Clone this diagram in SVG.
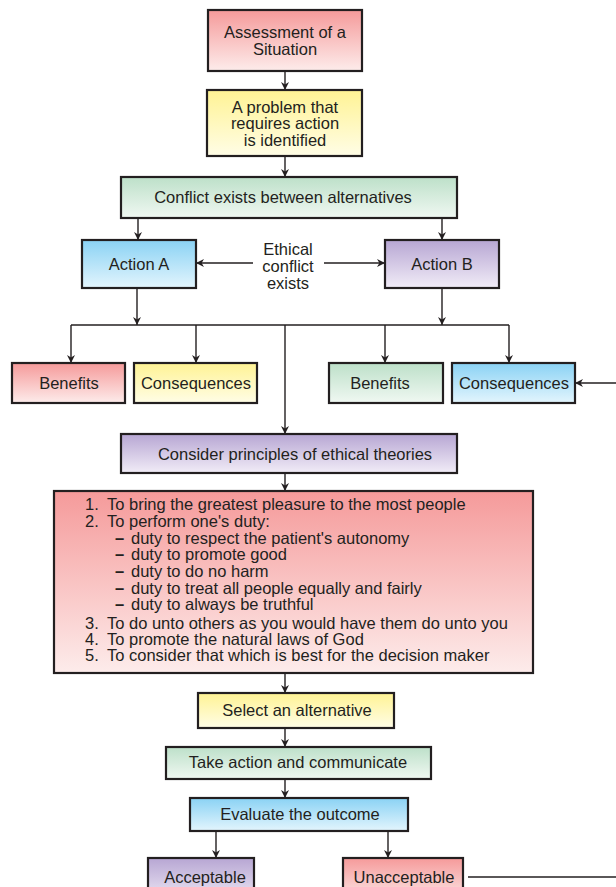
<svg xmlns="http://www.w3.org/2000/svg" width="616" height="887" viewBox="0 0 616 887">
<defs>
<linearGradient id="gRed" x1="0" y1="0" x2="0" y2="1"><stop offset="0" stop-color="#f59a9a"/><stop offset="1" stop-color="#fdeceb"/></linearGradient>
<linearGradient id="gYel" x1="0" y1="0" x2="0" y2="1"><stop offset="0" stop-color="#fff394"/><stop offset="1" stop-color="#fffde6"/></linearGradient>
<linearGradient id="gGrn" x1="0" y1="0" x2="0" y2="1"><stop offset="0" stop-color="#bde0c9"/><stop offset="1" stop-color="#f0f8f2"/></linearGradient>
<linearGradient id="gBlu" x1="0" y1="0" x2="0" y2="1"><stop offset="0" stop-color="#8ad2f4"/><stop offset="1" stop-color="#e3f5fd"/></linearGradient>
<linearGradient id="gPur" x1="0" y1="0" x2="0" y2="1"><stop offset="0" stop-color="#b7a6d3"/><stop offset="1" stop-color="#f1ecf7"/></linearGradient>
<marker id="ah" viewBox="0 0 10 10" refX="10" refY="5" markerWidth="8" markerHeight="8" orient="auto" markerUnits="userSpaceOnUse"><path d="M0,0 L10,5 L0,10 L3,5 z" fill="#231f20"/></marker>
</defs>
<style>
.box{stroke:#231f20;stroke-width:2.2}
.t{font-family:"Liberation Sans",Arial,sans-serif;font-size:16.5px;fill:#231f20}
.c{text-anchor:middle}
.ln{fill:none;stroke:#231f20;stroke-width:1.4}
.ar{fill:none;stroke:#231f20;stroke-width:1.4;marker-end:url(#ah)}
.dash{font-weight:bold}
</style>
<rect width="616" height="887" fill="#ffffff"/>

<g id="connectors">
<path class="ar" d="M285,71 V90"/>
<path class="ar" d="M285,156 V177"/>
<path class="ar" d="M138,218 V240"/>
<path class="ar" d="M442,218 V240"/>
<path class="ar" d="M253,263 H196"/>
<path class="ar" d="M324,263 H385"/>
<path class="ar" d="M137,288 V325"/>
<path class="ar" d="M442,288 V325"/>
<path class="ln" d="M71,325 H509"/>
<path class="ar" d="M71,325 V363"/>
<path class="ar" d="M196,325 V363"/>
<path class="ar" d="M385,325 V363"/>
<path class="ar" d="M509,325 V363"/>
<path class="ar" d="M285,325 V434"/>
<path class="ar" d="M616,383 H575"/>
<path class="ar" d="M285,473 V491"/>
<path class="ar" d="M285,673 V693"/>
<path class="ar" d="M285,728 V747"/>
<path class="ar" d="M285,779 V798"/>
<path class="ar" d="M216,831 V858"/>
<path class="ar" d="M388,831 V858"/>
<path class="ln" d="M468,877 H616"/>
</g>

<g id="assessment">
<rect class="box" x="208" y="10" width="154" height="61" fill="url(#gRed)"/>
<text class="t c" x="285" y="38">Assessment of a</text>
<text class="t c" x="285" y="55">Situation</text>
</g>
<g id="problem">
<rect class="box" x="207" y="90" width="155" height="66" fill="url(#gYel)"/>
<text class="t c" x="285" y="113">A problem that</text>
<text class="t c" x="285" y="129">requires action</text>
<text class="t c" x="285" y="146">is identified</text>
</g>
<g id="conflict">
<rect class="box" x="121" y="177" width="336" height="41" fill="url(#gGrn)"/>
<text class="t c" x="283" y="203">Conflict exists between alternatives</text>
</g>
<g id="actionA">
<rect class="box" x="82" y="240" width="114" height="48" fill="url(#gBlu)"/>
<text class="t c" x="139" y="270">Action A</text>
</g>
<g id="ethical">
<text class="t c" x="288" y="255">Ethical</text>
<text class="t c" x="288" y="272">conflict</text>
<text class="t c" x="288" y="289">exists</text>
</g>
<g id="actionB">
<rect class="box" x="385" y="240" width="114" height="48" fill="url(#gPur)"/>
<text class="t c" x="442" y="270">Action B</text>
</g>
<g id="benefitsA">
<rect class="box" x="12" y="363" width="113" height="40" fill="url(#gRed)"/>
<text class="t c" x="69" y="389">Benefits</text>
</g>
<g id="consequencesA">
<rect class="box" x="134" y="363" width="123" height="40" fill="url(#gYel)"/>
<text class="t c" x="196" y="389">Consequences</text>
</g>
<g id="benefitsB">
<rect class="box" x="329" y="363" width="114" height="40" fill="url(#gGrn)"/>
<text class="t c" x="380" y="389">Benefits</text>
</g>
<g id="consequencesB">
<rect class="box" x="452" y="363" width="123" height="40" fill="url(#gBlu)"/>
<text class="t c" x="514" y="389">Consequences</text>
</g>
<g id="consider">
<rect class="box" x="121" y="434" width="336" height="39" fill="url(#gPur)"/>
<text class="t c" x="295" y="460">Consider principles of ethical theories</text>
</g>
<g id="principles">
<rect class="box" x="54" y="491" width="479" height="182" fill="url(#gRed)"/>
<text class="t" y="510"><tspan x="85">1.</tspan><tspan x="107">To bring the greatest pleasure to the most people</tspan></text>
<text class="t" y="527"><tspan x="85">2.</tspan><tspan x="107">To perform one's duty:</tspan></text>
<text class="t" y="544"><tspan x="115" class="dash">–</tspan><tspan x="131">duty to respect the patient's autonomy</tspan></text>
<text class="t" y="560"><tspan x="115" class="dash">–</tspan><tspan x="131">duty to promote good</tspan></text>
<text class="t" y="577"><tspan x="115" class="dash">–</tspan><tspan x="131">duty to do no harm</tspan></text>
<text class="t" y="594"><tspan x="115" class="dash">–</tspan><tspan x="131">duty to treat all people equally and fairly</tspan></text>
<text class="t" y="610"><tspan x="115" class="dash">–</tspan><tspan x="131">duty to always be truthful</tspan></text>
<text class="t" y="629"><tspan x="85">3.</tspan><tspan x="107">To do unto others as you would have them do unto you</tspan></text>
<text class="t" y="645"><tspan x="85">4.</tspan><tspan x="107">To promote the natural laws of God</tspan></text>
<text class="t" y="661"><tspan x="85">5.</tspan><tspan x="107">To consider that which is best for the decision maker</tspan></text>
</g>
<g id="select">
<rect class="box" x="198" y="693" width="196" height="35" fill="url(#gYel)"/>
<text class="t c" x="297" y="716">Select an alternative</text>
</g>
<g id="takeaction">
<rect class="box" x="166" y="747" width="265" height="32" fill="url(#gGrn)"/>
<text class="t c" x="298" y="768">Take action and communicate</text>
</g>
<g id="evaluate">
<rect class="box" x="190" y="798" width="218" height="33" fill="url(#gBlu)"/>
<text class="t c" x="300" y="820">Evaluate the outcome</text>
</g>
<g id="acceptable">
<rect class="box" x="148" y="858" width="106" height="45" fill="url(#gPur)"/>
<text class="t c" x="205" y="883">Acceptable</text>
</g>
<g id="unacceptable">
<rect class="box" x="343" y="858" width="120" height="45" fill="url(#gRed)"/>
<text class="t c" x="404" y="883">Unacceptable</text>
</g>
</svg>
